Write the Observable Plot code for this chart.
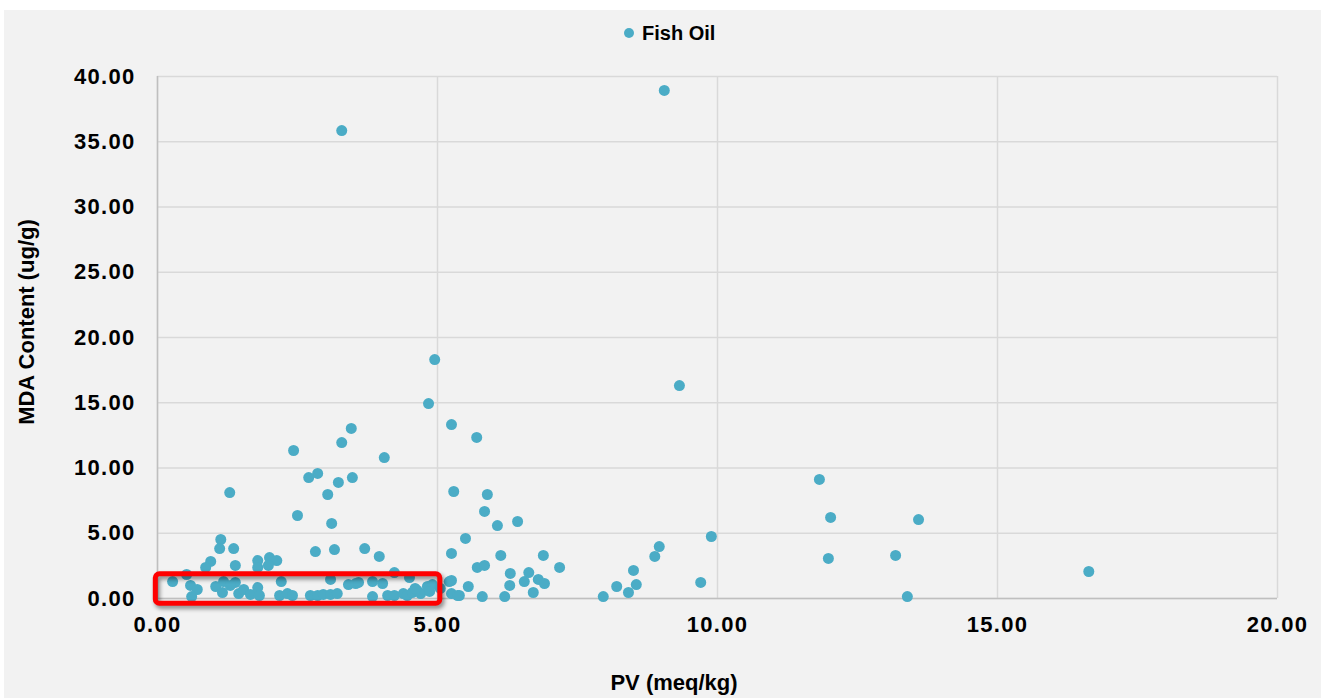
<!DOCTYPE html>
<html>
<head>
<meta charset="utf-8">
<script src="https://cdn.jsdelivr.net/npm/d3@7"></script>
<script src="https://cdn.jsdelivr.net/npm/@observablehq/plot@0.6"></script>
<style>
  html, body { margin: 0; padding: 0; background: #ffffff; }
  body { width: 1325px; height: 698px; overflow: hidden; position: relative;
         font-family: "Liberation Sans", Arial, sans-serif; }
  #panel { position: absolute; left: 4px; top: 10px; width: 1317px; height: 688px;
           background: #F2F2F2; overflow: hidden; }
  #chart { position: absolute; left: 0; top: 0; }
  #legend { position: absolute; left: 620px; top: 11px; height: 24px; display: flex;
            align-items: center; font-weight: bold; font-size: 20px; color: #000; }
  #legend .sw { width: 10px; height: 10px; border-radius: 50%; background: #4BACC6; margin-right: 8px; }
  .ytitle { position: absolute; left: 23px; top: 312px; transform: translate(-50%, -50%) rotate(-90deg);
            white-space: nowrap; font-weight: bold; font-size: 22px; color: #000; }
  .xtitle { position: absolute; left: 670px; top: 661px; transform: translateX(-50%);
            white-space: nowrap; font-weight: bold; font-size: 22px; line-height: 24px; color: #000; }
  .hl rect { filter: drop-shadow(2px 3px 2px rgba(0,0,0,0.45)); }
  #chart svg g[aria-label="y-axis tick label"] text,
  #chart svg g[aria-label="x-axis tick label"] text { letter-spacing: 1.3px; }
</style>
</head>
<body>
<div id="panel">
  <div id="chart"></div>
  <div id="legend"><span class="sw"></span><span class="lt"></span></div>
  <div class="ytitle"></div>
  <div class="xtitle"></div>
</div>
<script>
// ---- chart data ----
const seriesName = "Fish Oil";
const xTitle = "PV (meq/kg)";
const yTitle = "MDA Content (ug/g)";
const xTicks = [0, 5, 10, 15, 20];
const yTicks = [0, 5, 10, 15, 20, 25, 30, 35, 40];

// PV (meq/kg)
const pv = [
  3.29, 9.05, 4.95, 9.32, 4.84, 5.25, 5.70, 3.46, 3.29, 2.43,
  4.05, 2.86, 2.70, 3.48, 3.23, 3.04, 1.29, 5.29, 5.89, 11.82,
  5.84, 2.50, 6.43, 6.07, 3.11, 12.02, 13.59, 9.89, 1.13, 5.50,
  11.98, 13.18, 13.39, 16.63, 8.96, 8.88, 8.50, 8.55, 8.41, 8.20,
  7.96, 9.70, 7.18, 6.89, 6.13, 5.25, 5.71, 5.84, 6.30, 6.63,
  6.55, 6.80, 6.91, 6.29, 5.55, 5.21, 5.25, 5.05, 5.25, 5.36,
  5.39, 5.80, 6.20, 6.71, 2.82, 3.16, 3.70, 3.96, 1.11, 1.36,
  0.95, 0.86, 1.39, 1.79, 1.79, 2.00, 2.13, 1.98, 4.23, 4.50,
  0.52, 0.27, 0.59, 0.71, 0.61, 1.04, 1.16, 1.18, 1.39, 1.30,
  1.45, 1.54, 1.66, 1.79, 1.82, 2.21, 2.18, 2.32, 2.41, 2.73,
  2.86, 2.96, 3.09, 3.21, 3.09, 3.41, 3.54, 3.59, 3.84, 4.02,
  3.84, 4.11, 4.23, 4.39, 4.46, 4.55, 4.64, 4.70, 4.82, 4.91,
  4.60, 4.86
];
// MDA content (ug/g)
const mda = [
  35.86, 38.93, 18.31, 16.32, 14.94, 13.33, 12.34, 13.03, 11.95, 11.34,
  10.80, 9.58, 9.27, 9.27, 8.89, 7.97, 8.12, 8.20, 7.97, 9.12,
  6.67, 6.36, 5.90, 5.59, 5.75, 6.21, 6.05, 4.75, 4.52, 4.60,
  3.07, 3.30, 0.15, 2.07, 3.98, 3.22, 2.15, 1.07, 0.46, 0.92,
  0.15, 1.23, 2.38, 3.30, 3.30, 3.45, 2.38, 2.53, 1.92, 1.99,
  1.30, 1.46, 1.15, 1.00, 0.92, 1.30, 1.38, 0.77, 0.38, 0.23,
  0.23, 0.15, 0.15, 0.46, 3.60, 3.75, 3.83, 3.22, 3.83, 3.83,
  2.84, 2.38, 2.53, 2.91, 2.38, 3.14, 2.91, 2.53, 1.99, 1.61,
  1.84, 1.30, 1.00, 0.69, 0.15, 0.92, 0.46, 1.30, 1.23, 1.00,
  0.38, 0.69, 0.31, 0.84, 0.23, 1.30, 0.23, 0.38, 0.23, 0.23,
  0.23, 0.31, 0.31, 0.38, 1.46, 1.07, 1.15, 1.23, 1.30, 1.15,
  0.15, 0.23, 0.23, 0.38, 0.23, 0.46, 0.61, 0.38, 0.92, 1.07,
  0.77, 0.54
];
// highlighted region (red box annotation), data coordinates
const boxPV = [-0.03, 5.05];
const boxMDA = [-0.40, 1.85];

// ---- build ----
const points = pv.map((x, i) => ({pv: x, mda: mda[i], series: seriesName}));
const box = [{x1: boxPV[0], x2: boxPV[1], y1: boxMDA[0], y2: boxMDA[1]}];
const fmt = d3.format(".2f");

document.querySelector("#legend .lt").textContent = seriesName;
document.querySelector(".ytitle").textContent = yTitle;
document.querySelector(".xtitle").textContent = xTitle;

const chart = Plot.plot({
  width: 1317,
  height: 688,
  marginLeft: 153,
  marginRight: 44,
  marginTop: 66,
  marginBottom: 100,
  style: {background: "transparent", fontFamily: "'Liberation Sans', Arial, sans-serif",
          fontSize: "22px", fontWeight: "bold", color: "#000", overflow: "visible"},
  x: {domain: [0, 20], label: null},
  y: {domain: [0, 40], label: null},
  marks: [
    Plot.gridX(xTicks, {stroke: "#D9D9D9", strokeOpacity: 1, strokeWidth: 1.5}),
    Plot.gridY(yTicks, {stroke: "#D9D9D9", strokeOpacity: 1, strokeWidth: 1.5}),
    Plot.ruleX([0], {stroke: "#BFBFBF", strokeWidth: 1.5}),
    Plot.ruleY([0], {stroke: "#BFBFBF", strokeWidth: 1.5}),
    Plot.axisX(xTicks, {tickSize: 0, tickPadding: 18, tickFormat: fmt, label: null, fill: "#000"}),
    Plot.axisY(yTicks, {tickSize: 0, tickPadding: 22, tickFormat: fmt, label: null, fill: "#000"}),
    Plot.dot(points, {x: "pv", y: "mda", r: 5.5, fill: "#4BACC6", stroke: null}),
    Plot.rect(box, {x1: "x1", x2: "x2", y1: "y1", y2: "y2", fill: "none",
                    stroke: "#FF0000", strokeWidth: 5, rx: 4, clip: false, className: "hl"})
  ]
});
document.getElementById("chart").appendChild(chart);
</script>
</body>
</html>
